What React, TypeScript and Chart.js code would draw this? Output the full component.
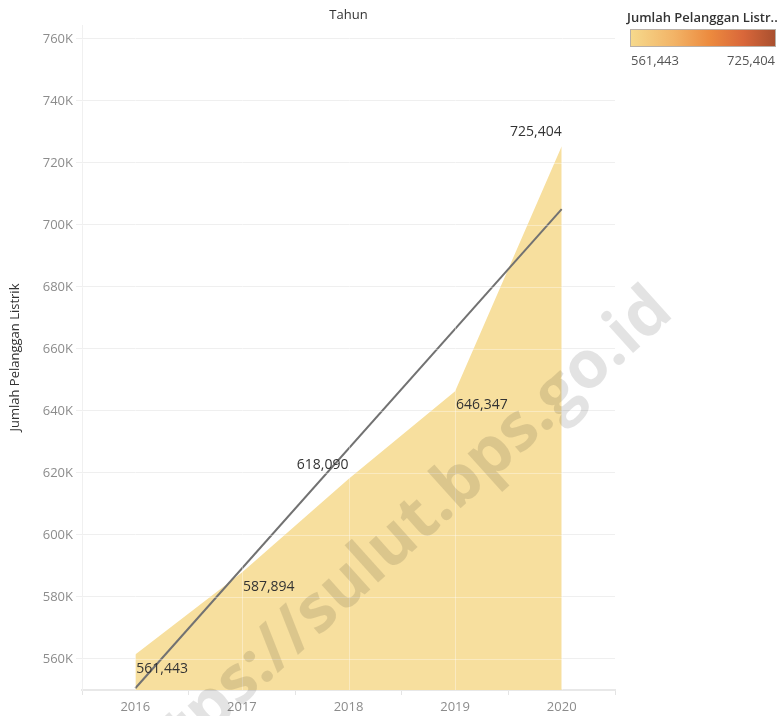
import React, { useEffect, useRef } from "react";
import { Chart, registerables } from "chart.js";

Chart.register(...registerables);

// ---- data ----
const years = ["2016", "2017", "2018", "2019", "2020"];
const customers = [561443, 587894, 618090, 646347, 725404];
const trendValues = [550560, null, null, null, 705110];
const yTicks = [560000, 580000, 600000, 620000, 640000, 660000, 680000, 700000, 720000, 740000, 760000];
const yMin = 550000;
const yMax = 764500;
const labelSides = ["right-below", "right-below", "left-above", "right-below", "left-above"];
const legendRange = [561443, 725404];

const FONT = '"Open Sans", "Noto Sans", sans-serif';
const fmt = (v: number) => String(v).replace(/\B(?=(\d{3})+(?!\d))/g, ",");

const gridOverlay = {
  id: "gridOverlay",
  afterDatasetsDraw(chart: any) {
    const { ctx, chartArea } = chart;
    const xs = chart.scales.x;
    const ys = chart.scales.y;
    ctx.save();
    ctx.strokeStyle = "rgba(255,255,255,0.35)";
    ctx.lineWidth = 1;
    years.forEach((_, i) => {
      const x = Math.round(xs.getPixelForValue(i)) + 0.5;
      ctx.beginPath();
      ctx.moveTo(x, chartArea.top);
      ctx.lineTo(x, chartArea.bottom);
      ctx.stroke();
    });
    yTicks.forEach((v) => {
      const y = Math.round(ys.getPixelForValue(v)) + 0.5;
      ctx.beginPath();
      ctx.moveTo(chartArea.left, y);
      ctx.lineTo(chartArea.right, y);
      ctx.stroke();
    });
    ctx.restore();
  },
};

const valueLabels = {
  id: "valueLabels",
  afterDatasetsDraw(chart: any) {
    const meta = chart.getDatasetMeta(1);
    const ctx = chart.ctx;
    ctx.save();
    ctx.font = `14px ${FONT}`;
    ctx.fillStyle = "#333333";
    ctx.textBaseline = "middle";
    meta.data.forEach((pt: any, i: number) => {
      const side = labelSides[i];
      const right = side.startsWith("right");
      ctx.textAlign = right ? "left" : "right";
      const dy = side.endsWith("below") ? 14 : -14;
      ctx.fillText(fmt(customers[i]), pt.x + (right ? 1 : 0), pt.y + dy);
    });
    ctx.restore();
  },
};

const topTitle = {
  id: "topTitle",
  afterDraw(chart: any) {
    const { ctx, chartArea } = chart;
    ctx.save();
    ctx.font = `13px ${FONT}`;
    ctx.fillStyle = "#333333";
    ctx.textAlign = "center";
    ctx.textBaseline = "middle";
    ctx.fillText("Tahun", (chartArea.left + chartArea.right) / 2, 15);
    ctx.restore();
  },
};

const watermark = {
  id: "watermark",
  afterDraw(chart: any) {
    const ctx = chart.ctx;
    const text = "https://sulut.bps.go.id";
    ctx.save();
    ctx.font = `bold 66px ${FONT}`;
    const w1 = ctx.measureText("https://sulut.bps.go").width + ctx.measureText(".").width / 2;
    ctx.translate(619, 359);
    ctx.rotate((-42 * Math.PI) / 180);
    ctx.fillStyle = "rgba(0,0,0,0.11)";
    ctx.textAlign = "left";
    ctx.textBaseline = "alphabetic";
    ctx.fillText(text, -w1, 5);
    ctx.restore();
  },
};

export default function App() {
  const ref = useRef<HTMLCanvasElement | null>(null);

  useEffect(() => {
    if (!ref.current) return;
    const chart = new Chart(ref.current, {
      type: "line",
      data: {
        labels: years,
        datasets: [
          {
            label: "Trend",
            data: trendValues,
            borderColor: "#727272",
            borderWidth: 2,
            pointRadius: 0,
            fill: false,
            spanGaps: true,
            tension: 0,
            order: 1,
          },
          {
            label: "Jumlah Pelanggan Listrik",
            data: customers,
            borderColor: "rgba(0,0,0,0)",
            borderWidth: 0,
            backgroundColor: "#f7df9e",
            pointRadius: 0,
            fill: "start",
            tension: 0,
            order: 2,
          },
        ],
      },
      options: {
        animation: false,
        responsive: false,
        devicePixelRatio: 1,
        layout: { padding: { top: 25, right: 164, left: 0, bottom: 0 } },
        plugins: {
          legend: { display: false },
          tooltip: { enabled: false },
          title: { display: false },
        },
        scales: {
          x: {
            offset: true,
            grid: {
              offset: true,
              drawOnChartArea: false,
              drawTicks: true,
              tickLength: 5,
              color: "#e4e4e4",
            },
            border: { display: true, color: "#e8e8e8", width: 2 },
            ticks: {
              color: "#8c8c8c",
              font: { family: FONT, size: 13 },
              padding: 4,
              maxRotation: 0,
            },
            afterFit: (s: any) => {
              s.height = 26;
            },
          },
          y: {
            min: yMin,
            max: yMax,
            afterBuildTicks: (s: any) => {
              s.ticks = yTicks.map((v) => ({ value: v }));
            },
            grid: { color: "#efefef", tickLength: 6, lineWidth: 1 },
            border: { display: true, color: "#f0f0f0" },
            ticks: {
              color: "#8c8c8c",
              font: { family: FONT, size: 13 },
              padding: 3,
              callback: (v: any) => Math.round(Number(v) / 1000) + "K",
            },
            title: {
              display: true,
              text: "Jumlah Pelanggan Listrik",
              color: "#333333",
              font: { family: FONT, size: 13 },
              padding: { top: 7, bottom: 0 },
            },
            afterFit: (s: any) => {
              s.width = 82;
            },
          },
        },
      },
      plugins: [gridOverlay, valueLabels, topTitle, watermark],
    } as any);
    return () => chart.destroy();
  }, []);

  return (
    <div style={{ position: "fixed", left: 0, top: 0, width: 779, height: 716, background: "#fff", fontFamily: FONT }}>
      <canvas ref={ref} width={779} height={716} style={{ display: "block", width: 779, height: 716 }} />
      <div
        style={{
          position: "absolute",
          left: 627,
          top: 9,
          width: 152,
          fontSize: 13,
          fontWeight: 600,
          color: "#333",
          whiteSpace: "nowrap",
          lineHeight: "16px",
        }}
      >
        Jumlah Pelanggan Listr..
      </div>
      <div
        style={{
          position: "absolute",
          left: 630,
          top: 29,
          width: 144,
          height: 16,
          border: "1px solid #b8b0a8",
          background: "linear-gradient(to right, #f6d98c 0%, #f2b366 30%, #ec8a3e 55%, #d9673a 78%, #a9502f 100%)",
        }}
      />
      <div style={{ position: "absolute", left: 631, top: 51, fontSize: 13, color: "#555", lineHeight: "18px" }}>
        {fmt(legendRange[0])}
      </div>
      <div style={{ position: "absolute", right: 4, top: 51, fontSize: 13, color: "#555", lineHeight: "18px" }}>
        {fmt(legendRange[1])}
      </div>
    </div>
  );
}
